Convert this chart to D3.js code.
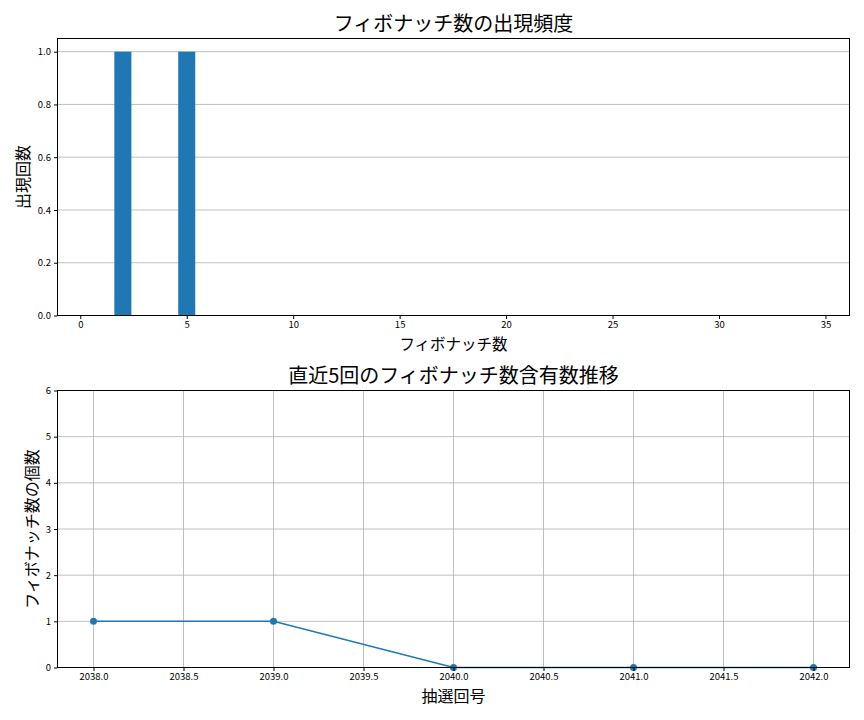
<!DOCTYPE html>
<html>
<head>
<meta charset="utf-8">
<script src="https://cdn.jsdelivr.net/npm/d3@7"></script>
<style>
  body { margin: 0; background: white; }
  text { font-family: "Noto Sans CJK JP", "Noto Sans", sans-serif; }
</style>
</head>
<body>
<div id="chart"></div>
<script>
// top: appearance count of fibonacci numbers
let fib_values = [2, 5];
let fib_counts = [1, 1];
let fib_ticks = [0, 5, 10, 15, 20, 25, 30, 35];
let count_ticks = [0.0, 0.2, 0.4, 0.6, 0.8, 1.0];

// bottom: recent 5 draws
let draws = [2038, 2039, 2040, 2041, 2042];
let draw_counts = [1, 1, 0, 0, 0];
let draw_ticks = [2038.0, 2038.5, 2039.0, 2039.5, 2040.0, 2040.5, 2041.0, 2041.5, 2042.0];
let num_ticks = [0, 1, 2, 3, 4, 5, 6];

let blue = "#1f77b4";
let grid = "#b0b0b0";

let svg = d3.select("div#chart")
    .append("svg")
    .attr("width", 864)
    .attr("height", 720);

let styleAxis = (g, size) => {
    g.selectAll("path").attr("stroke", "#000").attr("stroke-width", 1);
    g.selectAll("line").attr("stroke", "#000");
    g.selectAll("text").attr("font-size", size).attr("fill", "#000")
        .attr("font-family", "'Noto Sans CJK JP', sans-serif");
};

// ---- top chart ----
let box1 = { left: 57.5, right: 849.5, top: 38.5, bottom: 315.5 };
let x1 = d3.scaleLinear().domain([-1.07, 36.13]).range([box1.left, box1.right]);
let y1 = d3.scaleLinear().domain([0, 1.05]).range([box1.bottom, box1.top]);

let g1 = svg.append("g");
g1.append("g").selectAll("line").data(count_ticks).enter().append("line")
    .attr("x1", box1.left).attr("x2", box1.right)
    .attr("y1", d => y1(d)).attr("y2", d => y1(d))
    .attr("stroke", grid).attr("stroke-width", 0.8);

g1.selectAll("rect.bar").data(fib_values).enter().append("rect")
    .attr("class", "bar")
    .attr("x", d => x1(d - 0.4))
    .attr("width", x1(0.8) - x1(0))
    .attr("y", (d, i) => y1(fib_counts[i]))
    .attr("height", (d, i) => y1(0) - y1(fib_counts[i]))
    .attr("fill", blue);

g1.append("rect")
    .attr("x", box1.left).attr("y", box1.top)
    .attr("width", box1.right - box1.left).attr("height", box1.bottom - box1.top)
    .attr("fill", "none").attr("stroke", "#000").attr("stroke-width", 1);

g1.append("g").attr("transform", `translate(0,${box1.bottom})`)
    .call(d3.axisBottom(x1).tickValues(fib_ticks).tickFormat(d3.format("d")).tickSizeOuter(0).tickSize(3.5).tickPadding(2.5))
    .call(g => styleAxis(g, 9.5))
    .call(g => g.select(".domain").remove());
g1.append("g").attr("transform", `translate(${box1.left},0)`)
    .call(d3.axisLeft(y1).tickValues(count_ticks).tickFormat(d3.format(".1f")).tickSizeOuter(0).tickSize(3.5).tickPadding(3))
    .call(g => styleAxis(g, 9.5))
    .call(g => g.select(".domain").remove());

g1.append("text").attr("x", (box1.left + box1.right) / 2).attr("y", 31)
    .attr("text-anchor", "middle").attr("font-size", 20)
    .text("フィボナッチ数の出現頻度");
g1.append("text").attr("x", (box1.left + box1.right) / 2).attr("y", 350)
    .attr("text-anchor", "middle").attr("font-size", 15.5).text("フィボナッチ数");
g1.append("text").attr("transform", `translate(29,${(box1.top + box1.bottom) / 2}) rotate(-90)`)
    .attr("text-anchor", "middle").attr("font-size", 16).text("出現回数");

// ---- bottom chart ----
let box2 = { left: 57.5, right: 849.5, top: 390.5, bottom: 667.5 };
let x2 = d3.scaleLinear().domain([2037.8, 2042.2]).range([box2.left, box2.right]);
let y2 = d3.scaleLinear().domain([0, 6]).range([box2.bottom, box2.top]);

let g2 = svg.append("g");
g2.append("g").selectAll("line").data(draw_ticks).enter().append("line")
    .attr("x1", d => x2(d)).attr("x2", d => x2(d))
    .attr("y1", box2.top).attr("y2", box2.bottom)
    .attr("stroke", grid).attr("stroke-width", 0.8);
g2.append("g").selectAll("line").data(num_ticks).enter().append("line")
    .attr("x1", box2.left).attr("x2", box2.right)
    .attr("y1", d => y2(d)).attr("y2", d => y2(d))
    .attr("stroke", grid).attr("stroke-width", 0.8);

let line = d3.line().x((d, i) => x2(draws[i])).y(d => y2(d));
g2.append("path").datum(draw_counts)
    .attr("d", line).attr("fill", "none")
    .attr("stroke", blue).attr("stroke-width", 1.5);
g2.selectAll("circle").data(draw_counts).enter().append("circle")
    .attr("cx", (d, i) => x2(draws[i])).attr("cy", d => y2(d))
    .attr("r", 3.5).attr("fill", blue);

g2.append("rect")
    .attr("x", box2.left).attr("y", box2.top)
    .attr("width", box2.right - box2.left).attr("height", box2.bottom - box2.top)
    .attr("fill", "none").attr("stroke", "#000").attr("stroke-width", 1);

g2.append("g").attr("transform", `translate(0,${box2.bottom})`)
    .call(d3.axisBottom(x2).tickValues(draw_ticks).tickFormat(d3.format(".1f")).tickSizeOuter(0).tickSize(3.5).tickPadding(2.5))
    .call(g => styleAxis(g, 9.5))
    .call(g => g.select(".domain").remove());
g2.append("g").attr("transform", `translate(${box2.left},0)`)
    .call(d3.axisLeft(y2).tickValues(num_ticks).tickFormat(d3.format("d")).tickSizeOuter(0).tickSize(3.5).tickPadding(3))
    .call(g => styleAxis(g, 9.5))
    .call(g => g.select(".domain").remove());

g2.append("text").attr("x", (box2.left + box2.right) / 2).attr("y", 383)
    .attr("text-anchor", "middle").attr("font-size", 20)
    .text("直近5回のフィボナッチ数含有数推移");
g2.append("text").attr("x", (box2.left + box2.right) / 2).attr("y", 702)
    .attr("text-anchor", "middle").attr("font-size", 16).text("抽選回号");
g2.append("text").attr("transform", `translate(38,${(box2.top + box2.bottom) / 2}) rotate(-90)`)
    .attr("text-anchor", "middle").attr("font-size", 16).text("フィボナッチ数の個数");
</script>
</body>
</html>
